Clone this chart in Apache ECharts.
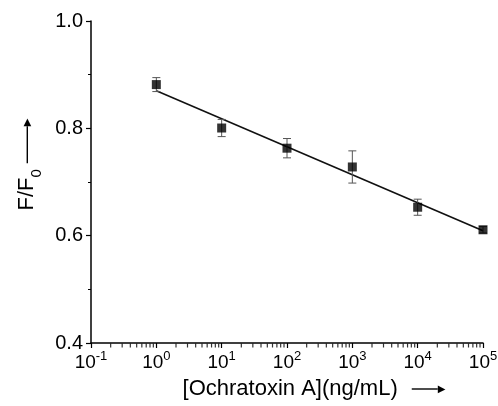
<!DOCTYPE html>
<html>
<head>
<meta charset="utf-8">
<script src="https://cdn.jsdelivr.net/npm/echarts@6/dist/echarts.min.js"></script>
<style>html,body{margin:0;padding:0;background:#fff}#c{width:498px;height:406px}</style>
</head>
<body>
<div id="c"></div>
<script>
// Data
var concentrations = [1, 10, 100, 1000, 10000, 100000];
var ratios = [0.8815, 0.8006, 0.763, 0.728, 0.653, 0.611];
var errors = [0.013, 0.016, 0.018, 0.030, 0.015, 0.006];
var fitX = [1, 100000];
var fitY = [0.870, 0.609];
var yTicks = [0.4, 0.6, 0.8, 1.0];
var xDecades = [-1, 0, 1, 2, 3, 4, 5];

// minor tick positions of the log axis (2..9 within each decade), sitting on the x axis (y = 0.4)
var minorTickValues = [];
for (var d = -1; d < 5; d++) {
  for (var k = 2; k <= 9; k++) minorTickValues.push([k * Math.pow(10, d), 0.4]);
}

var FONT = 'Liberation Sans, Arial, sans-serif';
var chart = echarts.init(document.getElementById('c'), null, {renderer: 'canvas'});

var points = concentrations.map(function (c, i) { return [c, ratios[i]]; });
var errData = concentrations.map(function (c, i) { return [c, ratios[i], errors[i]]; });
var fitData = fitX.map(function (x, i) { return [x, fitY[i]]; });

var arrowRich = function (len) {
  return {
    sp: {width: 14, fontSize: 22},
    ln: {width: len, height: 1.4, backgroundColor: '#000', fontSize: 22},
    hd: {fontFamily: 'DejaVu Sans', fontSize: 10, color: '#000'}
  };
};

var xRich = arrowRich(26);
var yRich = arrowRich(37);
yRich.sp = {width: 6, fontSize: 22};
yRich.sub = {fontFamily: FONT, fontSize: 15, color: '#000', verticalAlign: 'bottom', padding: [0, 0, -6, 0]};

chart.setOption({
  animation: false,
  backgroundColor: '#fff',
  grid: {left: 91, right: 15, top: 21, bottom: 63, containLabel: false, outerBoundsMode: 'none'},
  xAxis: {
    type: 'log',
    logBase: 10,
    min: 0.1,
    max: 100000,
    splitNumber: 6,
    name: '[Ochratoxin A](ng/mL){sp| }{ln| }{hd|\u25B6}',
    nameLocation: 'middle',
    nameGap: 35,
    nameTextStyle: {fontFamily: FONT, fontSize: 22, color: '#000', padding: [0, 0, 0, 54], rich: xRich},
    axisLine: {show: true, lineStyle: {color: '#000', width: 1.5}},
    axisTick: {show: true, inside: false, length: 5, lineStyle: {color: '#000', width: 1.2}},
    minorTick: {show: false},
    splitLine: {show: false},
    axisLabel: {
      margin: 7,
      fontFamily: FONT,
      color: '#000',
      formatter: function (v) {
        var e = Math.round(Math.log10(v));
        return '{b|10}{s|' + e + '}';
      },
      rich: {
        b: {fontFamily: FONT, fontSize: 19, color: '#000', verticalAlign: 'bottom'},
        s: {fontFamily: FONT, fontSize: 13, color: '#000', verticalAlign: 'bottom', padding: [0, 0, 9, 0]}
      }
    }
  },
  yAxis: {
    type: 'value',
    min: 0.4,
    max: 1.0,
    interval: 0.2,
    name: 'F/F{sub|0}{sp| }{ln| }{hd|\u25B6}',
    nameLocation: 'middle',
    nameGap: 52,
    nameTextStyle: {fontFamily: FONT, fontSize: 22, color: '#000', padding: [0, 0, 0, 35], rich: yRich},
    axisLine: {show: true, lineStyle: {color: '#000', width: 1.5}},
    axisTick: {show: true, inside: false, length: 5, lineStyle: {color: '#000', width: 1.2}},
    minorTick: {show: true, splitNumber: 2, length: 3, lineStyle: {color: '#000', width: 1}},
    splitLine: {show: false},
    axisLabel: {
      margin: 8,
      fontFamily: FONT, fontSize: 20, color: '#000',
      formatter: function (v) { return v.toFixed(1); }
    }
  },
  series: [
    {
      type: 'scatter',
      name: 'minorTicks',
      silent: true,
      clip: false,
      data: minorTickValues,
      symbol: 'rect',
      symbolSize: [1.2, 4],
      symbolOffset: [0, 2.5],
      itemStyle: {color: '#000'},
      z: 10
    },
    {
      type: 'line',
      data: fitData,
      showSymbol: false,
      symbol: 'none',
      lineStyle: {color: '#111', width: 1.6},
      z: 2
    },
    {
      type: 'custom',
      name: 'errors',
      data: errData,
      encode: {x: 0, y: 1},
      renderItem: function (params, api) {
        var x = api.value(0), y = api.value(1), e = api.value(2);
        var top = api.coord([x, y + e]);
        var bot = api.coord([x, y - e]);
        var w = 4;
        var st = {stroke: '#555', lineWidth: 1};
        return {type: 'group', children: [
          {type: 'line', shape: {x1: top[0], y1: top[1], x2: bot[0], y2: bot[1]}, style: st},
          {type: 'line', shape: {x1: top[0] - w, y1: top[1], x2: top[0] + w, y2: top[1]}, style: st},
          {type: 'line', shape: {x1: bot[0] - w, y1: bot[1], x2: bot[0] + w, y2: bot[1]}, style: st}
        ]};
      },
      z: 3
    },
    {
      type: 'scatter',
      data: points,
      symbol: 'rect',
      symbolSize: 9,
      itemStyle: {color: '#000'},
      z: 4
    }
  ]
});
</script>
</body>
</html>
